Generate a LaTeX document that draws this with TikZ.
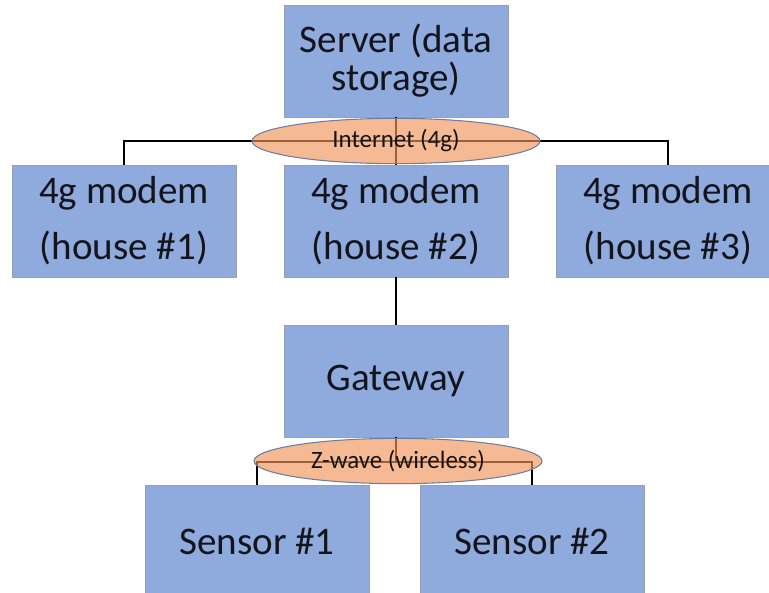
\documentclass[tikz,border=0pt]{standalone}
\usepackage{fontspec}
\setmainfont{Carlito}
\usetikzlibrary{shapes.geometric}
\definecolor{boxblue}{RGB}{143,170,220}
\definecolor{boxline}{RGB}{150,160,180}
\definecolor{ovalfill}{RGB}{240,150,90}
\definecolor{ovalline}{RGB}{110,125,160}
\definecolor{ink}{RGB}{20,20,28}
\begin{document}
\begin{tikzpicture}[x=0.75pt,y=-0.75pt,
  unit/.style={draw=boxline,line width=0.5pt,fill=boxblue,minimum width=168pt,minimum height=84pt,inner sep=0pt,outer sep=0pt,align=center,text=ink,font=\fontsize{29.3}{42}\selectfont},
  link/.style={ellipse,draw=ovalline,line width=0.8pt,fill=ovalfill,fill opacity=0.65,text opacity=1,minimum width=216pt,minimum height=34pt,inner sep=0pt,text=ink,font=\fontsize{18.7}{20}\selectfont},
  wire/.style={black,line width=1.5pt}]
\useasboundingbox (0,0) rectangle (769,593);
\fill[white] (0,0) rectangle (769,593);
\clip (0,0) rectangle (769,593);
\node[unit,font=\fontsize{29.3}{28.5}\selectfont] (server) at (396,61) {Server (data\\storage)};
\node[unit] (m1) at (124,221) {4g modem\\(house \#1)};
\node[unit] (m2) at (396,221) {4g modem\\(house \#2)};
\node[unit] (m3) at (668,221) {4g modem\\(house \#3)};
\node[unit] (gw) at (396,381) {Gateway};
\node[unit] (s1) at (257,541) {Sensor \#1};
\node[unit] (s2) at (532,541) {Sensor \#2};
\coordinate (inetc) at (396,141);
\coordinate (zwc) at (397,462);
\draw[wire] (server) -- (m2);
\draw[wire] (m1.north) |- (inetc) -| (m3.north);
\draw[wire] (m2) -- (gw);
\draw[wire] (gw.south) -- (gw.south |- zwc);
\draw[wire] (s1.north) |- (zwc) -| (s2.north);
\node[link] (inet) at (396,141) {Internet (4g)};
\node[link] (zw) at (398,461) {Z-wave (wireless)};
\end{tikzpicture}
\end{document}
